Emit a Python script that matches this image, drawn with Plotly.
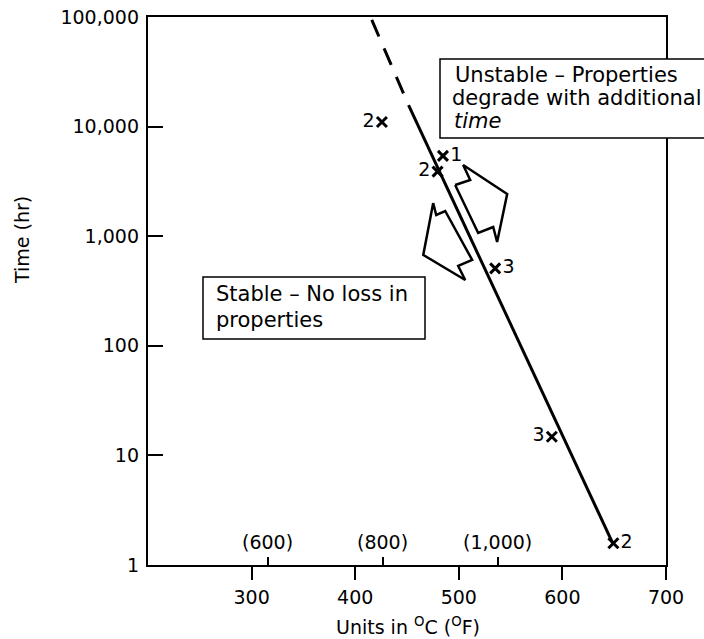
import plotly.graph_objects as go

# ---------------- data ----------------
# boundary line (temperature in deg C, time in hours)
line_solid_temp = [649, 451.5]
line_solid_time = [1.55, 15700]
line_dash_temp = [416, 451.5]
line_dash_time = [94000, 15700]

# observed points with their labels
pt_temp = [425.8, 484.7, 479.5, 535.1, 589.8, 649.2]
pt_time = [11000, 5400, 3880, 509, 14.8, 1.58]
pt_label = ["2", "1", "2", "3", "3", "2"]
pt_side = ["middle left", "middle right", "middle left", "middle right", "middle left", "middle right"]

# hollow block arrows (outline vertices, deg C / hours)
arrow_right_temp = [496.5, 511.0, 504.2, 546.7, 537.0, 533.2, 518.7, 496.5]
arrow_right_time = [2931, 3258, 4466, 2427, 885, 1213, 1069, 2931]
arrow_left_temp = [475.3, 478.2, 486.9, 512.9, 499.4, 506.2, 465.7, 475.3]
arrow_left_time = [2010, 1561, 1698, 607, 535, 398, 674, 2010]

# axes
x_ticks = [300, 400, 500, 600, 700]
f_ticks_c = [315.6, 426.7, 537.8]
f_tick_text = ["(600)", "(800)", "(1,000)"]
y_ticks = [1, 10, 100, 1000, 10000, 100000]
y_tick_text = ["1", "10", "100", "1,000", "10,000", "100,000"]

stable_lines = ["Stable \u2013 No loss in", "properties"]
unstable_lines = ["Unstable \u2013 Properties", "degrade with additional", "<i>time</i>"]

# ---------------- layout helpers ----------------
W, H = 704, 639
L, R, T, B = 148, 38, 17, 74
PW, PH = W - L - R, H - T - B


def px(x, y):
    """screen pixel -> paper fraction"""
    return (x - L) / PW, (H - B - y) / PH


FONT = "DejaVu Sans"
BLACK = "black"

fig = go.Figure()
fig.add_trace(go.Scatter(x=line_solid_temp, y=line_solid_time, mode="lines",
                         line=dict(color=BLACK, width=3), hoverinfo="skip", showlegend=False))
fig.add_trace(go.Scatter(x=line_dash_temp, y=line_dash_time, mode="lines",
                         line=dict(color=BLACK, width=3, dash="18px,13px"), hoverinfo="skip", showlegend=False))
for ax_t, ax_h in [(arrow_right_temp, arrow_right_time), (arrow_left_temp, arrow_left_time)]:
    fig.add_trace(go.Scatter(x=ax_t, y=ax_h, mode="lines",
                             line=dict(color=BLACK, width=2.5), hoverinfo="skip", showlegend=False))
fig.add_trace(go.Scatter(x=pt_temp, y=pt_time, mode="markers+text", text=pt_label,
                         textposition=pt_side,
                         textfont=dict(family=FONT, size=19, color=BLACK),
                         marker=dict(symbol="x-thin", size=10, color=BLACK, line=dict(color=BLACK, width=3)),
                         hoverinfo="skip", showlegend=False))
fig.add_trace(go.Scatter(x=[], y=[], xaxis="x2", showlegend=False, hoverinfo="skip"))
fig.add_trace(go.Scatter(x=[], y=[], yaxis="y2", showlegend=False, hoverinfo="skip"))

shapes = []
# stable box (closed)
a0, b0 = px(203, 339)
a1, b1 = px(425, 277)
shapes.append(dict(type="rect", xref="paper", yref="paper", x0=a0, y0=b0, x1=a1, y1=b1,
                   line=dict(color=BLACK, width=1.5), fillcolor="white", layer="above"))
# unstable box: runs off the right edge of the picture
a0, b0 = px(440, 138)
a1, b1 = px(720, 59)
shapes.append(dict(type="rect", xref="paper", yref="paper", x0=a0, y0=b0, x1=a1, y1=b1,
                   line=dict(width=0), fillcolor="white", layer="above"))
shapes.append(dict(type="path", xref="paper", yref="paper", layer="above",
                   path=f"M{a1},{b1} L{a0},{b1} L{a0},{b0} L{a1},{b0}",
                   line=dict(color=BLACK, width=1.5)))

annotations = []
BOXFONT = dict(family=FONT, size=21, color=BLACK)
for txt, (x, y) in zip(stable_lines, [(214, 294), (214, 320)]):
    a, b = px(x, y)
    annotations.append(dict(text=txt, x=a, y=b, xref="paper", yref="paper", xanchor="left",
                            yanchor="middle", showarrow=False, font=BOXFONT))
for txt, (x, y) in zip(unstable_lines, [(453, 75), (450, 98), (452, 121)]):
    a, b = px(x, y)
    annotations.append(dict(text=txt, x=a, y=b, xref="paper", yref="paper", xanchor="left",
                            yanchor="middle", showarrow=False, font=BOXFONT))
# Fahrenheit labels above the inner ticks
_, fy = px(0, 542)
for v, t in zip(f_ticks_c, f_tick_text):
    annotations.append(dict(text=t, x=v, y=fy, xref="x", yref="paper", xanchor="center",
                            yanchor="middle", showarrow=False, font=dict(family=FONT, size=19, color=BLACK)))
a, b = px(22, 240)
annotations.append(dict(text="Time (hr)", x=a, y=b, xref="paper", yref="paper", textangle=-90,
                        xanchor="center", yanchor="middle", showarrow=False,
                        font=dict(family=FONT, size=19, color=BLACK)))
a, b = px(408, 626)
annotations.append(dict(text="Units in <sup>O</sup>C (<sup>O</sup>F)", x=a, y=b, xref="paper", yref="paper",
                        xanchor="center", yanchor="middle", showarrow=False,
                        font=dict(family=FONT, size=19, color=BLACK)))

tickfont = dict(family=FONT, size=19, color=BLACK)
fig.update_layout(
    width=W, height=H,
    margin=dict(l=L, r=R, t=T, b=B, pad=0, autoexpand=False),
    paper_bgcolor="white", plot_bgcolor="white",
    showlegend=False, hovermode=False,
    shapes=shapes, annotations=annotations,
    xaxis=dict(range=[200, 700], tickvals=x_ticks, ticks="outside", ticklen=13, tickwidth=2,
               tickcolor=BLACK, showline=True, linecolor=BLACK, linewidth=2, mirror=True,
               showgrid=False, zeroline=False, tickfont=tickfont, ticklabelstandoff=1,
               automargin=False, ticklabeloverflow="allow"),
    xaxis2=dict(range=[200, 700], overlaying="x", anchor="y", side="bottom",
                tickvals=f_ticks_c, ticks="inside", ticklen=8, tickwidth=1.5,
                tickcolor=BLACK, showticklabels=False, showline=False, showgrid=False,
                zeroline=False, automargin=False),
    yaxis=dict(type="log", range=[0, 5], tickvals=y_ticks, ticks="inside", showticklabels=False,
               ticklen=15, tickwidth=2, tickcolor=BLACK, showline=True, linecolor=BLACK,
               linewidth=2, mirror=True, showgrid=False, zeroline=False, automargin=False),
    yaxis2=dict(type="log", range=[0, 5], overlaying="y", anchor="x", side="left",
                tickvals=y_ticks, ticktext=y_tick_text, ticks="", showline=False,
                showgrid=False, zeroline=False, tickfont=tickfont, ticklabelstandoff=8,
                automargin=False, ticklabeloverflow="allow"),
)

fig.write_html("out.html", config={"displayModeBar": False},
               post_script="document.body.style.margin='0';document.body.style.overflow='hidden';")
